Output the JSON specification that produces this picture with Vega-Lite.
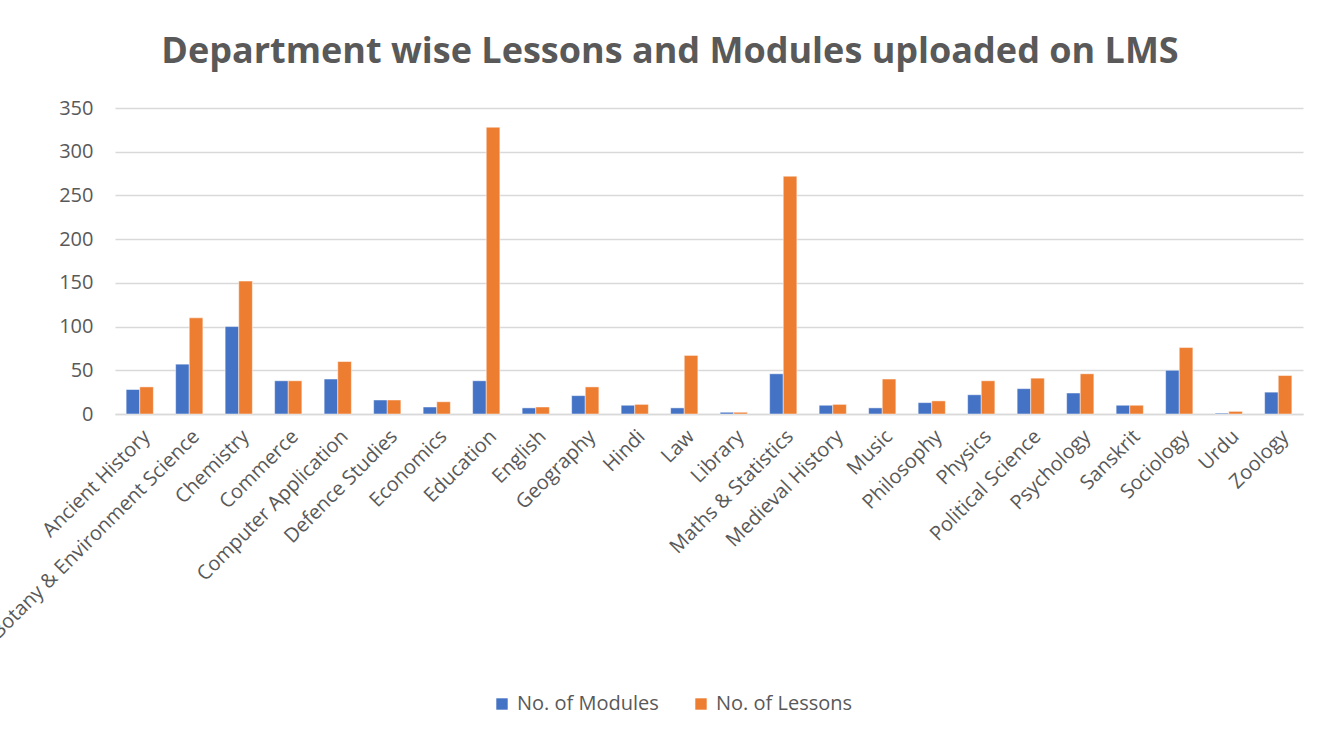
{
  "$schema": "https://vega.github.io/schema/vega-lite/v6.json",
  "width": 1188,
  "height": 306,
  "autosize": {"type": "none"},
  "padding": {"left": 115, "top": 108, "right": 37, "bottom": 326},
  "background": "white",
  "title": {
    "text": "Department wise Lessons and Modules uploaded on LMS",
    "fontSize": 36,
    "fontWeight": "bold",
    "font": "Open Sans",
    "color": "#595959",
    "anchor": "middle",
    "frame": "group",
    "dx": -39,
    "offset": 27
  },
  "data": {
    "values": [
      {"dept": "Ancient History", "series": "No. of Modules", "value": 28},
      {"dept": "Ancient History", "series": "No. of Lessons", "value": 31},
      {"dept": "Botany & Environment Science", "series": "No. of Modules", "value": 57},
      {"dept": "Botany & Environment Science", "series": "No. of Lessons", "value": 110},
      {"dept": "Chemistry", "series": "No. of Modules", "value": 100},
      {"dept": "Chemistry", "series": "No. of Lessons", "value": 152},
      {"dept": "Commerce", "series": "No. of Modules", "value": 38},
      {"dept": "Commerce", "series": "No. of Lessons", "value": 38},
      {"dept": "Computer Application", "series": "No. of Modules", "value": 40},
      {"dept": "Computer Application", "series": "No. of Lessons", "value": 60},
      {"dept": "Defence Studies", "series": "No. of Modules", "value": 16},
      {"dept": "Defence Studies", "series": "No. of Lessons", "value": 16},
      {"dept": "Economics", "series": "No. of Modules", "value": 8},
      {"dept": "Economics", "series": "No. of Lessons", "value": 14},
      {"dept": "Education", "series": "No. of Modules", "value": 38},
      {"dept": "Education", "series": "No. of Lessons", "value": 328},
      {"dept": "English", "series": "No. of Modules", "value": 7},
      {"dept": "English", "series": "No. of Lessons", "value": 8},
      {"dept": "Geography", "series": "No. of Modules", "value": 21},
      {"dept": "Geography", "series": "No. of Lessons", "value": 31},
      {"dept": "Hindi", "series": "No. of Modules", "value": 10},
      {"dept": "Hindi", "series": "No. of Lessons", "value": 11},
      {"dept": "Law", "series": "No. of Modules", "value": 7},
      {"dept": "Law", "series": "No. of Lessons", "value": 67},
      {"dept": "Library", "series": "No. of Modules", "value": 2},
      {"dept": "Library", "series": "No. of Lessons", "value": 2},
      {"dept": "Maths & Statistics", "series": "No. of Modules", "value": 46},
      {"dept": "Maths & Statistics", "series": "No. of Lessons", "value": 272},
      {"dept": "Medieval History", "series": "No. of Modules", "value": 10},
      {"dept": "Medieval History", "series": "No. of Lessons", "value": 11},
      {"dept": "Music", "series": "No. of Modules", "value": 7},
      {"dept": "Music", "series": "No. of Lessons", "value": 40},
      {"dept": "Philosophy", "series": "No. of Modules", "value": 13},
      {"dept": "Philosophy", "series": "No. of Lessons", "value": 15},
      {"dept": "Physics", "series": "No. of Modules", "value": 22},
      {"dept": "Physics", "series": "No. of Lessons", "value": 38},
      {"dept": "Political Science", "series": "No. of Modules", "value": 29},
      {"dept": "Political Science", "series": "No. of Lessons", "value": 41},
      {"dept": "Psychology", "series": "No. of Modules", "value": 24},
      {"dept": "Psychology", "series": "No. of Lessons", "value": 46},
      {"dept": "Sanskrit", "series": "No. of Modules", "value": 10},
      {"dept": "Sanskrit", "series": "No. of Lessons", "value": 10},
      {"dept": "Sociology", "series": "No. of Modules", "value": 50},
      {"dept": "Sociology", "series": "No. of Lessons", "value": 76},
      {"dept": "Urdu", "series": "No. of Modules", "value": 1},
      {"dept": "Urdu", "series": "No. of Lessons", "value": 3},
      {"dept": "Zoology", "series": "No. of Modules", "value": 25},
      {"dept": "Zoology", "series": "No. of Lessons", "value": 44}
    ]
  },
  "mark": {"type": "bar", "stroke": "white", "strokeWidth": 0.8, "strokeOpacity": 0.6},
  "encoding": {
    "x": {
      "field": "dept",
      "type": "nominal",
      "sort": null,
      "scale": {"paddingInner": 0.45, "paddingOuter": 0.225},
      "axis": {
        "title": null,
        "labelAngle": -45,
        "labelFontSize": 20,
        "labelFont": "Open Sans",
        "labelColor": "#595959",
        "labelOverlap": false,
        "labelLimit": 400,
        "ticks": false,
        "domainColor": "#d9d9d9",
        "domainWidth": 1.5,
        "labelPadding": 12
      }
    },
    "xOffset": {"field": "series", "type": "nominal", "sort": ["No. of Modules", "No. of Lessons"], "scale": {"paddingInner": 0, "paddingOuter": 0}},
    "y": {
      "field": "value",
      "type": "quantitative",
      "scale": {"domain": [0, 350]},
      "axis": {
        "title": null,
        "values": [0, 50, 100, 150, 200, 250, 300, 350],
        "labelFontSize": 20,
        "labelFont": "Open Sans",
        "labelColor": "#595959",
        "domain": false,
        "ticks": false,
        "gridColor": "#d9d9d9",
        "gridWidth": 1.5,
        "labelPadding": 22
      }
    },
    "color": {
      "field": "series",
      "type": "nominal",
      "sort": ["No. of Modules", "No. of Lessons"],
      "scale": {"domain": ["No. of Modules", "No. of Lessons"], "range": ["#4472C4", "#ED7D31"]},
      "legend": {
        "title": null,
        "orient": "none",
        "direction": "horizontal",
        "legendX": 377,
        "legendY": 586,
        "symbolType": "square",
        "symbolSize": 130,
        "symbolStrokeWidth": 0,
        "labelFontSize": 20,
        "labelFont": "Open Sans",
        "labelColor": "#595959",
        "columnPadding": 32,
        "labelOffset": 5
      }
    }
  },
  "config": {"view": {"stroke": null}}
}
